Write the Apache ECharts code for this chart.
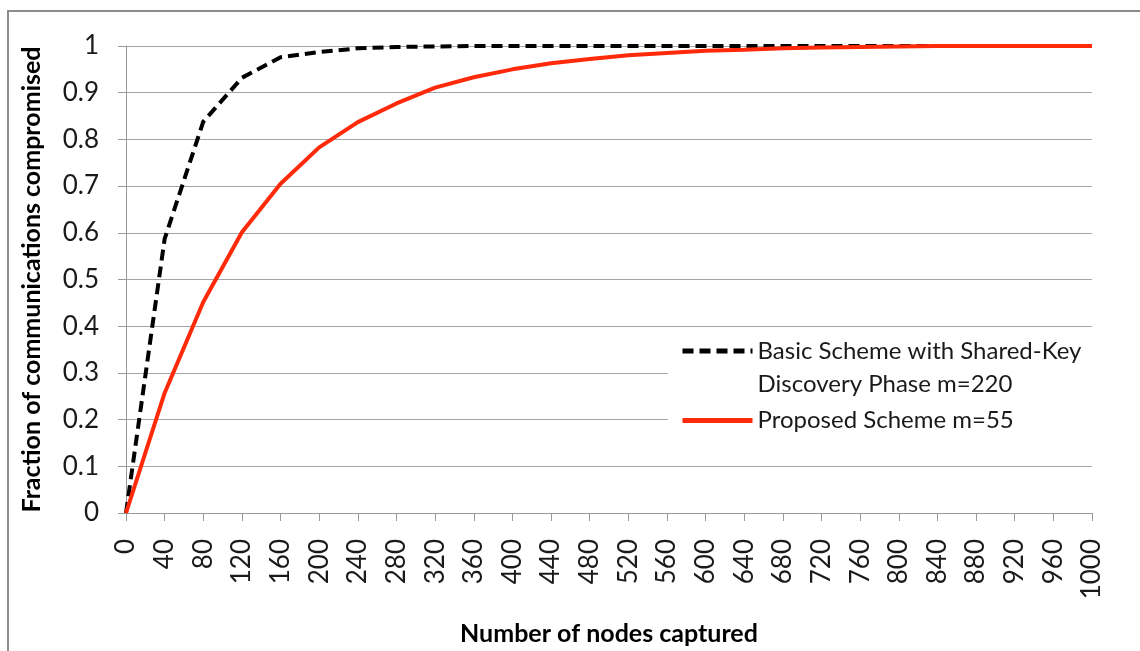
<!DOCTYPE html>
<html>
<head>
<meta charset="utf-8">
<script src="https://cdn.jsdelivr.net/npm/echarts@6/dist/echarts.min.js"></script>
<style>
html,body{margin:0;padding:0;background:#fff;}
#chart{width:1140px;height:651px;}
</style>
</head>
<body>
<div id="chart"></div>
<script>
var nodesCaptured = ['0','40','80','120','160','200','240','280','320','360','400','440','480','520','560','600','640','680','720','760','800','840','880','920','960','1000'];
var basicScheme = [0, 0.587, 0.838, 0.932, 0.976, 0.987, 0.995, 0.998, 0.999, 1, 1, 1, 1, 1, 1, 1, 1, 1, 1, 1, 1, 1, 1, 1, 1, 1];
var proposedScheme = [0, 0.257, 0.452, 0.601, 0.705, 0.783, 0.837, 0.877, 0.911, 0.933, 0.95, 0.963, 0.972, 0.98, 0.985, 0.99, 0.992, 0.995, 0.997, 0.998, 0.999, 1, 1, 1, 1, 1];
var seriesNames = ['Basic Scheme with Shared-Key Discovery Phase m=220', 'Proposed Scheme m=55'];
var legendLines = ['Basic Scheme with Shared-Key', 'Discovery Phase m=220'];
var xTitle = 'Number of nodes captured';
var yTitle = 'Fraction of communications compromised';

var FONT = 'Lato';
var TXT = '#1a1a1a';
var chart = echarts.init(document.getElementById('chart'));
chart.setOption({
  animation: false,
  backgroundColor: '#fff',
  textStyle: {fontFamily: FONT},
  graphic: [
    {type: 'polyline', z: 10, shape: {points: [[8, 660], [8, 11], [1150, 11]]}, style: {stroke: '#8c8c8c', lineWidth: 2, fill: null}},
    {type: 'rect', z: 1, shape: {x: 668, y: 338, width: 430, height: 100}, style: {fill: '#fff'}}
  ],
  grid: {left: 126, right: 48, top: 46, bottom: 132, containLabel: false},
  legend: [
    {
      data: [seriesNames[0]], orient: 'vertical', left: 680, top: 306, itemWidth: 70, itemHeight: 14,
      itemGap: 0, padding: 0, itemStyle: {opacity: 0}, lineStyle: {width: 5},
      formatter: function () { return '{a| }\n{a|' + legendLines[0] + '}\n{a|' + legendLines[1] + '}'; },
      textStyle: {fontFamily: FONT, fontSize: 24, color: TXT, rich: {a: {fontFamily: FONT, fontSize: 24, lineHeight: 33, color: TXT}}}
    },
    {
      data: [seriesNames[1]], orient: 'vertical', left: 680, top: 404, itemWidth: 70, itemHeight: 14,
      padding: 0, itemStyle: {opacity: 0}, lineStyle: {width: 5},
      textStyle: {fontFamily: FONT, fontSize: 24, color: TXT, lineHeight: 33}
    }
  ],
  xAxis: {
    type: 'category', data: nodesCaptured, boundaryGap: false,
    name: xTitle, nameLocation: 'middle', nameGap: 108,
    nameTextStyle: {fontFamily: FONT, fontSize: 25, fontWeight: 'bold', color: '#000'},
    axisLine: {lineStyle: {color: '#999', width: 1}},
    axisTick: {show: true, length: 8, lineStyle: {color: '#999'}},
    axisLabel: {rotate: 90, margin: 26, fontSize: 26, color: TXT, fontFamily: FONT, interval: 0},
    splitLine: {show: false}
  },
  yAxis: {
    type: 'value', min: 0, max: 1, interval: 0.1,
    name: yTitle, nameLocation: 'middle', nameGap: 82,
    nameTextStyle: {fontFamily: FONT, fontSize: 25, fontWeight: 'bold', color: '#000'},
    axisLine: {show: true, lineStyle: {color: '#999', width: 1}},
    axisTick: {show: true, length: 8, lineStyle: {color: '#999'}},
    axisLabel: {margin: 27, fontSize: 26, color: TXT, fontFamily: FONT,
      formatter: function (v) { return String(parseFloat(v.toFixed(1))); }},
    splitLine: {show: true, lineStyle: {color: '#a6a6a6', width: 1}}
  },
  series: [
    {
      name: seriesNames[0], type: 'line', data: basicScheme, symbol: 'none', z: 3,
      lineStyle: {color: '#000', width: 4, type: [11, 6]},
      itemStyle: {color: '#000'}
    },
    {
      name: seriesNames[1], type: 'line', data: proposedScheme, symbol: 'none', z: 4,
      lineStyle: {color: '#ff2a0a', width: 4},
      itemStyle: {color: '#ff2a0a'}
    }
  ]
});
</script>
</body>
</html>
